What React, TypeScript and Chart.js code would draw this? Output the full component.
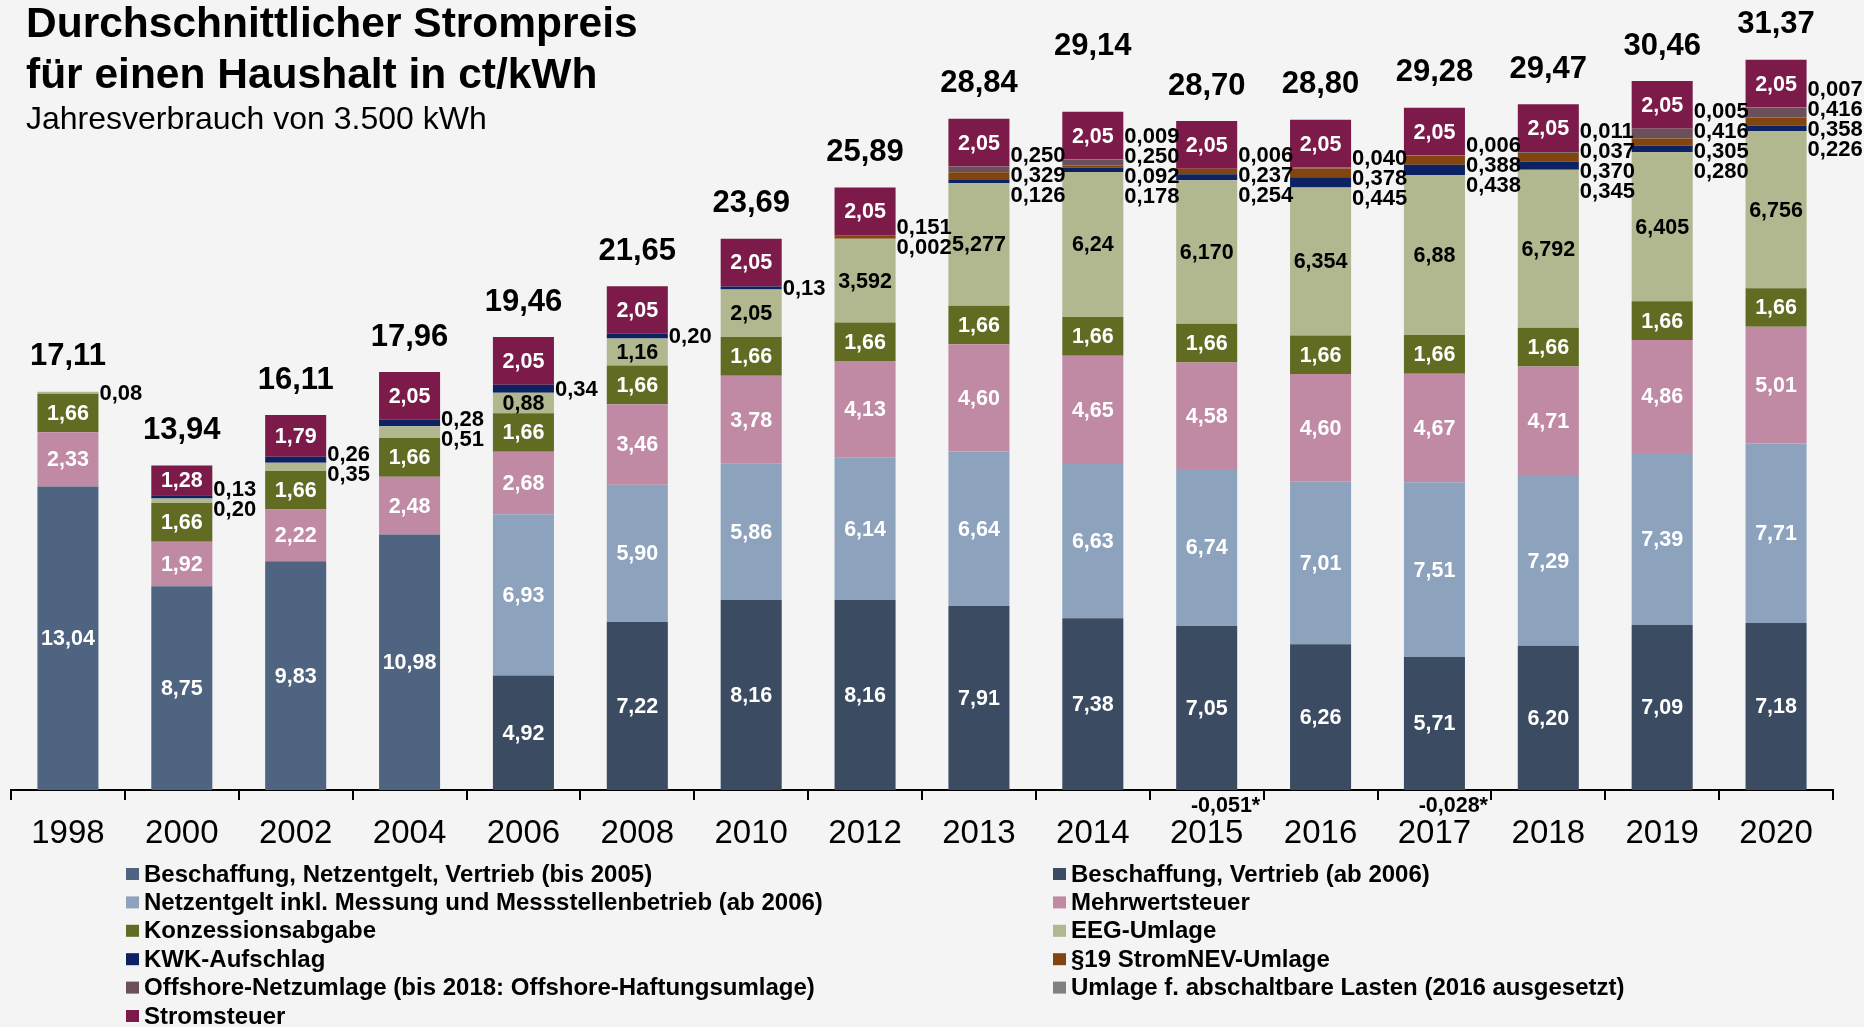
import React, { useEffect, useRef } from 'react';
import { Chart, registerables } from 'chart.js';

Chart.register(...registerables);

// ---------- Data (values as printed in the reference, German decimal comma) ----------
const years = ['1998', '2000', '2002', '2004', '2006', '2008', '2010', '2012', '2013', '2014', '2015', '2016', '2017', '2018', '2019', '2020'];

const beschaffungNetzVertriebBis2005 = ['13,04', '8,75', '9,83', '10,98', '0', '0', '0', '0', '0', '0', '0', '0', '0', '0', '0', '0'];
const beschaffungVertriebAb2006 = ['0', '0', '0', '0', '4,92', '7,22', '8,16', '8,16', '7,91', '7,38', '7,05', '6,26', '5,71', '6,20', '7,09', '7,18'];
const netzentgeltAb2006 = ['0', '0', '0', '0', '6,93', '5,90', '5,86', '6,14', '6,64', '6,63', '6,74', '7,01', '7,51', '7,29', '7,39', '7,71'];
const mehrwertsteuer = ['2,33', '1,92', '2,22', '2,48', '2,68', '3,46', '3,78', '4,13', '4,60', '4,65', '4,58', '4,60', '4,67', '4,71', '4,86', '5,01'];
const konzessionsabgabe = ['1,66', '1,66', '1,66', '1,66', '1,66', '1,66', '1,66', '1,66', '1,66', '1,66', '1,66', '1,66', '1,66', '1,66', '1,66', '1,66'];
const eegUmlage = ['0,08', '0,20', '0,35', '0,51', '0,88', '1,16', '2,05', '3,592', '5,277', '6,24', '6,170', '6,354', '6,88', '6,792', '6,405', '6,756'];
const kwkAufschlag = ['0', '0,13', '0,26', '0,28', '0,34', '0,20', '0,13', '0,002', '0,126', '0,178', '0,254', '0,445', '0,438', '0,345', '0,280', '0,226'];
const stromNevUmlage = ['0', '0', '0', '0', '0', '0', '0', '0,151', '0,329', '0,092', '0,237', '0,378', '0,388', '0,370', '0,305', '0,358'];
const offshoreUmlage = ['0', '0', '0', '0', '0', '0', '0', '0', '0,250', '0,250', '-0,051', '0,040', '-0,028', '0,037', '0,416', '0,416'];
const abschaltbareLasten = ['0', '0', '0', '0', '0', '0', '0', '0', '0', '0,009', '0,006', '0', '0,006', '0,011', '0,005', '0,007'];
const stromsteuer = ['0', '1,28', '1,79', '2,05', '2,05', '2,05', '2,05', '2,05', '2,05', '2,05', '2,05', '2,05', '2,05', '2,05', '2,05', '2,05'];
const totals = ['17,11', '13,94', '16,11', '17,96', '19,46', '21,65', '23,69', '25,89', '28,84', '29,14', '28,70', '28,80', '29,28', '29,47', '30,46', '31,37'];

// ---------- Series styling ----------
type Mode = 'inside' | 'side' | 'auto';
interface Series { label: string; values: string[]; color: string; text: string; mode: Mode }

const series: Series[] = [
  { label: 'Beschaffung, Netzentgelt, Vertrieb (bis 2005)', values: beschaffungNetzVertriebBis2005, color: '#4f6481', text: '#ffffff', mode: 'inside' },
  { label: 'Beschaffung, Vertrieb (ab 2006)', values: beschaffungVertriebAb2006, color: '#3b4b62', text: '#ffffff', mode: 'inside' },
  { label: 'Netzentgelt inkl. Messung und Messstellenbetrieb (ab 2006)', values: netzentgeltAb2006, color: '#8da3bd', text: '#ffffff', mode: 'inside' },
  { label: 'Mehrwertsteuer', values: mehrwertsteuer, color: '#c08aa5', text: '#ffffff', mode: 'inside' },
  { label: 'Konzessionsabgabe', values: konzessionsabgabe, color: '#616b22', text: '#ffffff', mode: 'inside' },
  { label: 'EEG-Umlage', values: eegUmlage, color: '#b1b78f', text: '#000000', mode: 'auto' },
  { label: 'KWK-Aufschlag', values: kwkAufschlag, color: '#0d2262', text: '#000000', mode: 'side' },
  { label: '§19 StromNEV-Umlage', values: stromNevUmlage, color: '#82450f', text: '#000000', mode: 'side' },
  { label: 'Offshore-Netzumlage (bis 2018: Offshore-Haftungsumlage)', values: offshoreUmlage, color: '#6b505a', text: '#000000', mode: 'side' },
  { label: 'Umlage f. abschaltbare Lasten (2016 ausgesetzt)', values: abschaltbareLasten, color: '#808080', text: '#000000', mode: 'side' },
  { label: 'Stromsteuer', values: stromsteuer, color: '#7c1b4a', text: '#ffffff', mode: 'inside' },
];

const num = (s: string) => parseFloat(s.replace(',', '.'));

const FONT = '"Liberation Sans", Arial, Helvetica, sans-serif';
const BG = '#f4f4f4';
const totalLift: Record<string, number> = { '2014': 30 };

const labelPlugin = {
  id: 'segmentLabels',
  afterDatasetsDraw(chart: any) {
    const ctx: CanvasRenderingContext2D = chart.ctx;
    ctx.save();
    for (let j = 0; j < years.length; j++) {
      const sideItems: { text: string; top: number; bottom: number }[] = [];
      let stackTop = Infinity;
      let barX = 0;
      let barW = 0;
      series.forEach((s, i) => {
        const el: any = chart.getDatasetMeta(i).data[j];
        if (!el) return;
        const p = el.getProps(['x', 'y', 'base', 'width'], true);
        barX = p.x;
        barW = p.width;
        const txt = s.values[j];
        const v = num(txt);
        if (v === 0) return;
        if (v < 0) {
          ctx.font = `bold 21.5px ${FONT}`;
          ctx.fillStyle = '#000';
          ctx.textAlign = 'right';
          ctx.textBaseline = 'middle';
          ctx.fillText(txt + '*', p.x + p.width / 2 + 23, 806);
          return;
        }
        stackTop = Math.min(stackTop, p.y);
        const inside = s.mode === 'inside' || (s.mode === 'auto' && v >= 0.8);
        if (inside) {
          ctx.font = `bold 21.5px ${FONT}`;
          ctx.fillStyle = s.text;
          ctx.textAlign = 'center';
          ctx.textBaseline = 'middle';
          ctx.fillText(txt, p.x, (p.y + p.base) / 2 + 1);
        } else {
          sideItems.push({ text: txt, top: p.y, bottom: p.base });
        }
      });
      if (sideItems.length) {
        const top = Math.min(...sideItems.map((d) => d.top));
        const bottom = Math.max(...sideItems.map((d) => d.bottom));
        const center = (top + bottom) / 2;
        const list = sideItems.slice().reverse();
        const m = list.length;
        ctx.font = `bold 22px ${FONT}`;
        ctx.fillStyle = '#000';
        ctx.textAlign = 'left';
        ctx.textBaseline = 'middle';
        list.forEach((d, k) => {
          ctx.fillText(d.text, barX + barW / 2 + 1, center + (k - (m - 1) / 2) * 20 + 1);
        });
      }
      // total
      ctx.font = `bold 31px ${FONT}`;
      ctx.fillStyle = '#000';
      ctx.textAlign = 'center';
      ctx.textBaseline = 'middle';
      ctx.fillText(totals[j], barX, stackTop - 35 - (totalLift[years[j]] || 0));
    }
    ctx.restore();
  },
  afterDraw(chart: any) {
    const ctx: CanvasRenderingContext2D = chart.ctx;
    ctx.save();
    ctx.fillStyle = '#000';
    ctx.textAlign = 'left';
    ctx.textBaseline = 'alphabetic';
    ctx.font = `bold 42.5px ${FONT}`;
    ctx.fillText('Durchschnittlicher Strompreis', 26, 37);
    ctx.fillText('für einen Haushalt in ct/kWh', 26, 88);
    ctx.font = `32px ${FONT}`;
    ctx.fillText('Jahresverbrauch von 3.500 kWh', 26, 129);

    // legend (two columns, row-wise order)
    ctx.font = `bold 24px ${FONT}`;
    ctx.textBaseline = 'middle';
    series.forEach((s, i) => {
      const col = i % 2;
      const row = Math.floor(i / 2);
      const mx = col === 0 ? 126 : 1053;
      const cy = 874 + row * 28.4;
      ctx.fillStyle = s.color;
      ctx.fillRect(mx, cy - 6, 13, 12);
      ctx.fillStyle = '#000';
      ctx.fillText(s.label, mx + 18, cy + 1);
    });
    ctx.restore();
  },
};

export default function App() {
  const ref = useRef<HTMLCanvasElement | null>(null);
  useEffect(() => {
    document.body.style.background = BG;
    const canvas = ref.current;
    if (!canvas) return;
    const chart = new Chart(canvas, {
      type: 'bar',
      data: {
        labels: years,
        datasets: series.map((s) => ({
          label: s.label,
          data: s.values.map(num),
          backgroundColor: s.color,
          borderWidth: 0,
          categoryPercentage: 1,
          barPercentage: 0.536,
        })),
      },
      options: {
        animation: false,
        responsive: false,
        devicePixelRatio: 1,
        layout: { padding: { left: 11, right: 31, top: 22, bottom: 0 } },
        plugins: {
          legend: { display: false },
          title: { display: false },
          tooltip: { enabled: false },
        },
        scales: {
          x: {
            stacked: true,
            offset: true,
            grid: {
              display: true,
              offset: true,
              drawOnChartArea: false,
              drawTicks: true,
              tickLength: 10,
              color: '#000',
              lineWidth: 2,
            },
            border: { display: true, color: '#000', width: 2 },
            ticks: {
              color: '#000',
              font: { family: FONT, size: 33 },
              padding: 14,
              maxRotation: 0,
              autoSkip: false,
            },
            afterFit: (scale: any) => {
              scale.height = 237;
            },
          },
          y: {
            stacked: true,
            display: false,
            min: 0,
            max: 33,
          },
        },
      },
      plugins: [labelPlugin],
    } as any);
    return () => chart.destroy();
  }, []);
  return (
    <div style={{ position: 'absolute', left: 0, top: 0, width: 1864, height: 1027, background: BG }}>
      <canvas ref={ref} width={1864} height={1027} style={{ display: 'block', width: 1864, height: 1027 }} />
    </div>
  );
}
